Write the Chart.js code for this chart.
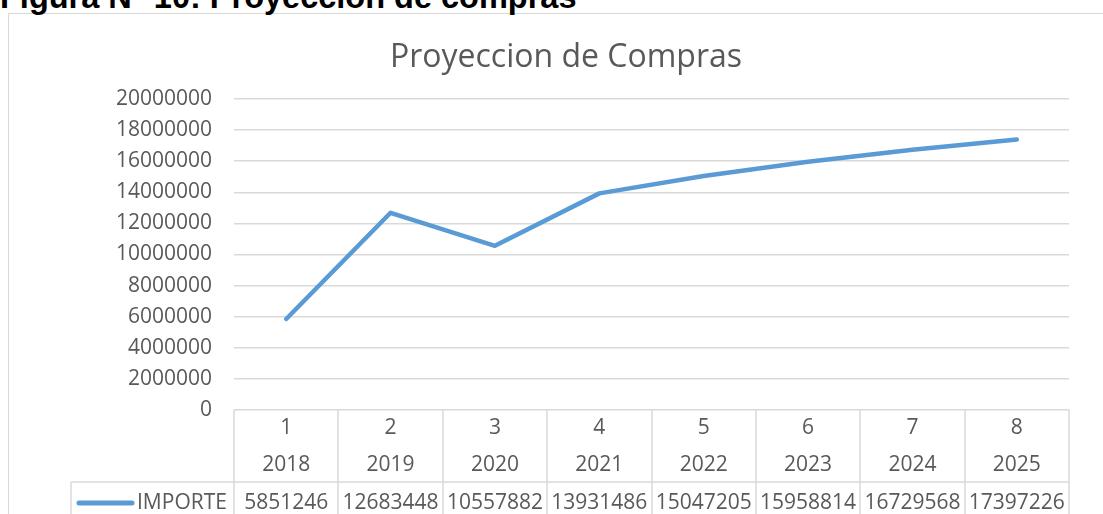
<!DOCTYPE html>
<html>
<head>
<meta charset="utf-8">
<script src="https://cdn.jsdelivr.net/npm/chart.js@4.4.1/dist/chart.umd.min.js"></script>
<style>
  html, body { margin: 0; padding: 0; background: #fff; overflow: hidden; }
  #fig-title {
    position: absolute; left: 0; top: -19px;
    font: bold 32.5px "Liberation Sans", Arial, sans-serif; line-height: 32px;
    color: #000; white-space: nowrap;
  }
  #frame {
    position: absolute; left: 8px; top: 13px; width: 1200px; height: 600px;
    border: 1px solid #d9d9d9; box-sizing: border-box;
  }
  #wrap { position: absolute; left: 0; top: 0; width: 1103px; height: 514px; }
</style>
</head>
<body>
<div id="frame"></div>
<div id="fig-title">Figura N° 10: Proyección de compras</div>
<div id="wrap"><canvas id="chart"></canvas></div>
<script>
// Chart data
const periods = ["1", "2", "3", "4", "5", "6", "7", "8"]
const years = ["2018", "2019", "2020", "2021", "2022", "2023", "2024", "2025"]
const importe = [5851246, 12683448, 10557882, 13931486, 15047205, 15958814, 16729568, 17397226]
const seriesName = "IMPORTE"
const yMin = 0
const yMax = 20000000
const yStep = 2000000

const textColor = "#595959"
const gridColor = "#d9d9d9"
const lineColor = "#5b9bd5"
const fontFamily = "'Open Sans', 'Noto Sans', sans-serif"

// Draws the data table under the plot (category labels + values + legend key)
const dataTable = {
  id: "dataTable",
  afterDraw(chart) {
    const ctx = chart.ctx
    const x = chart.scales.x
    const area = chart.chartArea
    const half = (x.getPixelForValue(1) - x.getPixelForValue(0)) / 2
    const top = area.bottom
    const rowSplit = top + 72
    const bottom = chart.height + 5
    const legendLeft = 71

    ctx.save()
    ctx.strokeStyle = gridColor
    ctx.lineWidth = 1.5
    ctx.beginPath()
    for (let i = 0; i <= periods.length; i++) {
      const px = Math.round(x.getPixelForValue(0) - half + i * half * 2)
      ctx.moveTo(px, top)
      ctx.lineTo(px, bottom)
    }
    ctx.moveTo(legendLeft, rowSplit)
    ctx.lineTo(area.right, rowSplit)
    ctx.moveTo(legendLeft, rowSplit)
    ctx.lineTo(legendLeft, bottom)
    ctx.stroke()

    ctx.fillStyle = textColor
    ctx.font = "21px " + fontFamily
    ctx.textAlign = "center"
    ctx.textBaseline = "middle"
    periods.forEach((p, i) => {
      const cx = x.getPixelForValue(i)
      ctx.fillText(p, cx, top + 18)
      ctx.fillText(years[i], cx, top + 55)
      ctx.fillText(String(importe[i]), cx, top + 93)
    })

    // legend key
    ctx.strokeStyle = lineColor
    ctx.lineWidth = 5
    ctx.lineCap = "round"
    ctx.beginPath()
    ctx.moveTo(legendLeft + 8, top + 93)
    ctx.lineTo(legendLeft + 61, top + 93)
    ctx.stroke()
    ctx.textAlign = "left"
    ctx.fillText(seriesName, legendLeft + 66, top + 93)
    ctx.restore()
  },
}

const chart = new Chart(document.getElementById("chart"), {
  type: "line",
  data: {
    labels: periods,
    datasets: [
      {
        label: seriesName,
        data: importe,
        borderColor: lineColor,
        backgroundColor: lineColor,
        borderWidth: 4.5,
        borderCapStyle: "round",
        borderJoinStyle: "round",
        pointRadius: 0,
        tension: 0,
      },
    ],
  },
  options: {
    responsive: true,
    maintainAspectRatio: false,
    animation: false,
    layout: {
      padding: { top: 30, right: 34, bottom: 104, left: 63 },
    },
    plugins: {
      legend: { display: false },
      tooltip: { enabled: false },
      title: {
        display: true,
        text: "Proyeccion de Compras",
        color: textColor,
        font: { family: fontFamily, size: 32, weight: "normal", lineHeight: 1.2 },
        padding: { top: 8.3, bottom: 22.3 },
      },
    },
    scales: {
      x: {
        type: "category",
        display: false,
        offset: true,
      },
      y: {
        min: yMin,
        max: yMax,
        afterFit: (scale) => {
          scale.width = 171
        },
        border: { display: false },
        grid: {
          color: gridColor,
          lineWidth: 1.5,
          drawTicks: false,
        },
        ticks: {
          stepSize: yStep,
          color: textColor,
          padding: 22,
          font: { family: fontFamily, size: 21 },
          callback: (value) => String(value),
        },
      },
    },
  },
  plugins: [dataTable],
})
</script>
</body>
</html>
